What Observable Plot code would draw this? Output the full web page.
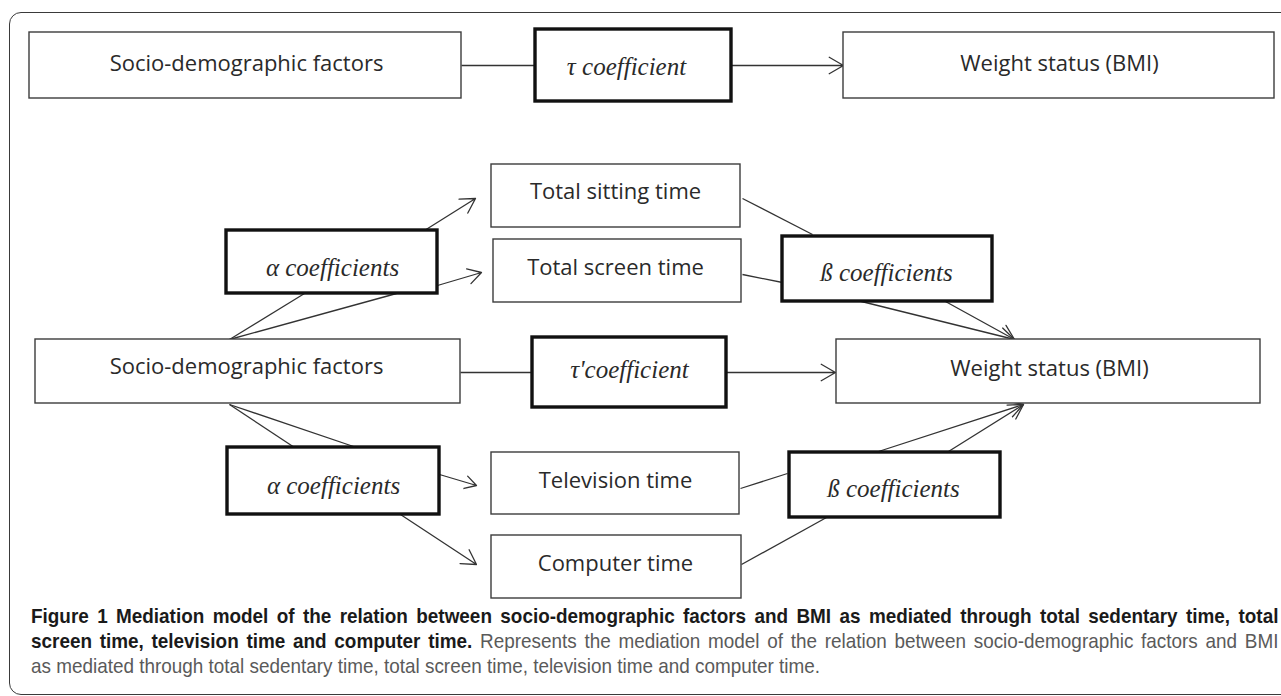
<!DOCTYPE html>
<html><head><meta charset="utf-8">
<script src="https://cdn.jsdelivr.net/npm/d3@7"></script>
<script src="https://cdn.jsdelivr.net/npm/@observablehq/plot@0.6"></script>
<style>
html,body{margin:0;padding:0;background:#fff;overflow:hidden;width:1281px;height:696px;}
#frame{position:absolute;left:9px;top:12px;width:1300px;height:683px;border:1.4px solid #3a3a3a;border-radius:12px;box-sizing:border-box;}
#chart{position:absolute;left:0;top:0;}
#caption{position:absolute;left:31px;top:603px;width:1386px;transform:scaleX(0.9);transform-origin:0 0;font-family:"Liberation Sans",sans-serif;font-size:21px;line-height:25px;color:#5a5a5a;}
#caption .l{white-space:nowrap;text-align:justify;text-align-last:justify;}
#caption .last{text-align-last:left;}
#caption b{color:#1a1a1a;}
</style></head><body>
<div id="frame"></div><div id="chart"></div><div id="caption"></div>
<script>
// ---- diagram nodes ----
const boxLabels = ["Socio-demographic factors","τ coefficient","Weight status (BMI)",
  "Total sitting time","Total screen time","α coefficients","ß coefficients",
  "Socio-demographic factors","τ'coefficient","Weight status (BMI)",
  "α coefficients","Television time","ß coefficients","Computer time"];
const boxKind = ["variable","coefficient","variable","variable","variable","coefficient","coefficient",
  "variable","coefficient","variable","coefficient","variable","coefficient","variable"];
const boxLeft   = [29,535,843,491,493,226,782,35,532,836,227,491,789,491];
const boxRight  = [461,731,1274,740,741,437,992,460,726,1260,439,739,1000,741];
const boxTop    = [32,29,32,164,239,230,236,339,337,339,447,452,452,535];
const boxBottom = [98,101,98,227,302,293,301,403,407,403,514,514,517,598];
const labelCenter   = [246,626,1059,615,615,332,886,246,629,1049,333,615,893,615];
const labelBaseline = [70,74,70,198,274,275,280,373,377,375,493,487,496,570];

// ---- connectors (plain lines) ----
const lineX1 = [461,229,229,742,742,460,229,229,740,741];
const lineY1 = [65,339,339,198,274,372,404,404,488,564];
const lineX2 = [535,304,396,812,782,532,294,356,787,826];
const lineY2 = [65,293,293,234,282,372,447,447,473,517];

// ---- connectors (arrows) ----
const arrowX1 = [731,424,437,726,861,945,439,400,878,948];
const arrowY1 = [65,230,285,372,301,301,474,514,451,451];
const arrowX2 = [843,475,481,835,1014,1014,476,476,1023,1023];
const arrowY2 = [65,198,272,372,339,339,485,564,404,404];

// ---- caption ----
const captionBold = ["Figure 1 Mediation model of the relation between socio-demographic factors and BMI as mediated through total sedentary time, total",
  "screen time, television time and computer time.", ""];
const captionPlain = ["", " Represents the mediation model of the relation between socio-demographic factors and BMI",
  "as mediated through total sedentary time, total screen time, television time and computer time."];

const boxes = boxLabels.map((label,i)=>({label, kind:boxKind[i], x1:boxLeft[i], x2:boxRight[i], y1:boxTop[i], y2:boxBottom[i], cx:labelCenter[i], base:labelBaseline[i]}));
const lines = lineX1.map((_,i)=>({x1:lineX1[i],y1:lineY1[i],x2:lineX2[i],y2:lineY2[i]}));
const arrows = arrowX1.map((_,i)=>({x1:arrowX1[i],y1:arrowY1[i],x2:arrowX2[i],y2:arrowY2[i]}));
const vars = boxes.filter(d=>d.kind==="variable");
const coefs = boxes.filter(d=>d.kind==="coefficient");

const plot = Plot.plot({
  width:1281, height:600, margin:0,
  x:{domain:[0,1281], range:[0,1281], axis:null},
  y:{domain:[0,600], range:[0,600], axis:null},
  style:{background:"transparent", overflow:"visible"},
  marks:[
    Plot.link(lines,{x1:"x1",y1:"y1",x2:"x2",y2:"y2",stroke:"#333",strokeWidth:1.3}),
    Plot.arrow(arrows,{x1:"x1",y1:"y1",x2:"x2",y2:"y2",stroke:"#333",strokeWidth:1.3,headLength:19,headAngle:60}),
    Plot.rect(vars,{x1:"x1",x2:"x2",y1:"y1",y2:"y2",fill:"white",stroke:"#3c3c3c",strokeWidth:1.4}),
    Plot.rect(coefs,{x1:"x1",x2:"x2",y1:"y1",y2:"y2",fill:"white",stroke:"#111",strokeWidth:3.4}),
    Plot.text(vars,{x:"cx",y:"base",text:"label",lineAnchor:"bottom",fontFamily:"Open Sans",fontSize:22,fill:"#2a2a2a"}),
    Plot.text(coefs,{x:"cx",y:"base",text:"label",lineAnchor:"bottom",fontFamily:"Liberation Serif",fontStyle:"italic",fontSize:25,fill:"#2a2a2a"})
  ]
});
document.getElementById("chart").appendChild(plot);

const cap = document.getElementById("caption");
captionBold.forEach((b,i)=>{
  const div = document.createElement("div");
  div.className = "l" + (i===captionBold.length-1 ? " last" : "");
  if (b) { const el = document.createElement("b"); el.textContent = b; div.appendChild(el); }
  if (captionPlain[i]) div.appendChild(document.createTextNode(captionPlain[i]));
  cap.appendChild(div);
});
</script>
</body></html>
